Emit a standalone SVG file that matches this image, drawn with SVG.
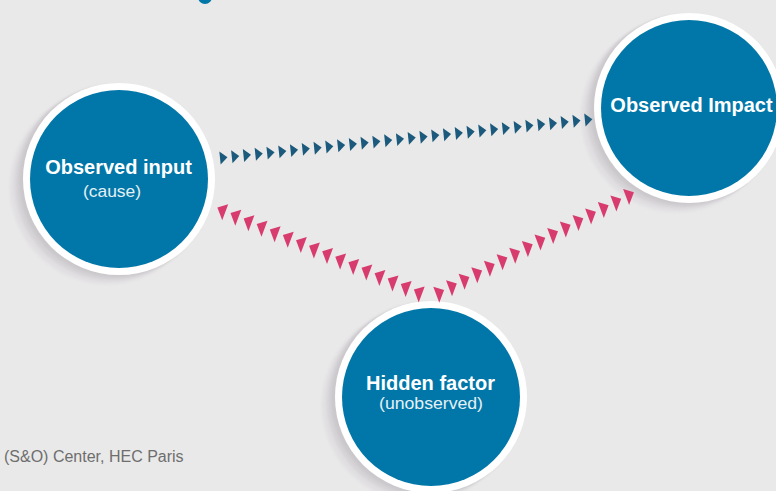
<svg xmlns="http://www.w3.org/2000/svg" xmlns:xlink="http://www.w3.org/1999/xlink" width="776" height="491" viewBox="0 0 776 491">
<style>
.bg{fill:#e9e9e9}
.ring{fill:#ffffff}
.core{fill:#0077a8}
.sh0{fill:#e1dfe2}
.sh1{fill:#d6d3d7}
.sh2{fill:#cbc8cc}
.bt{fill:#1b5a7c}
.pt{fill:#d83b6e}
.title{font-family:"Liberation Sans",Arial,sans-serif;font-weight:bold;font-size:20px;fill:#ffffff;text-anchor:middle}
.sub{font-family:"Liberation Sans",Arial,sans-serif;font-size:17px;fill:#e6f0f6;text-anchor:middle}
.foot{font-family:"Liberation Sans",Arial,sans-serif;font-size:16px;fill:#6e6e6e}
</style>
<defs>
<filter id="blur" x="-20%" y="-20%" width="140%" height="140%"><feGaussianBlur stdDeviation="1.5"/></filter>
<polygon id="btri" class="bt" points="0,-6.5 7.5,0 0,6.5"/>
<polygon id="ptl" class="pt" points="-5.2,-3.2 5.6,-6.4 -0.4,9.6"/>
<polygon id="ptr" class="pt" points="5.2,-3.2 -5.6,-6.4 0.4,9.6"/>
</defs>
<rect class="bg" x="0" y="0" width="776" height="491"/>
<circle class="core" cx="205" cy="-3" r="7"/>

<g id="observed-input">
<circle class="sh0" cx="107" cy="187" r="97" filter="url(#blur)"/>
<circle class="sh1" cx="111" cy="184" r="96" filter="url(#blur)"/>
<circle class="sh2" cx="115" cy="181" r="96" filter="url(#blur)"/>
<circle class="ring" cx="119" cy="179" r="96"/>
<circle class="core" cx="119" cy="179" r="89"/>
<text class="title" x="118.5" y="173.5">Observed input</text>
<text class="sub" x="112" y="197" textLength="58" lengthAdjust="spacingAndGlyphs">(cause)</text>
</g>

<g id="observed-impact">
<circle class="sh0" cx="677" cy="116" r="96" filter="url(#blur)"/>
<circle class="sh1" cx="681" cy="113" r="95" filter="url(#blur)"/>
<circle class="sh2" cx="685" cy="110" r="95" filter="url(#blur)"/>
<circle class="ring" cx="689" cy="108" r="95"/>
<circle class="core" cx="689" cy="108" r="88"/>
<text class="title" x="691.5" y="112">Observed Impact</text>
</g>

<g id="hidden-factor">
<circle class="sh0" cx="419" cy="405" r="97" filter="url(#blur)"/>
<circle class="sh1" cx="423" cy="402" r="96" filter="url(#blur)"/>
<circle class="sh2" cx="427" cy="399" r="96" filter="url(#blur)"/>
<circle class="ring" cx="431" cy="397" r="96"/>
<circle class="core" cx="431" cy="397" r="89"/>
<text class="title" x="430.5" y="390">Hidden factor</text>
<text class="sub" x="431" y="409" font-size="16" textLength="104" lengthAdjust="spacingAndGlyphs">(unobserved)</text>
</g>

<g id="connectors">
<g id="input-to-impact">
<use href="#btri" transform="translate(220,158) rotate(-6)"/>
<use href="#btri" transform="translate(231.8,156.8) rotate(-6)"/>
<use href="#btri" transform="translate(243.5,155.5) rotate(-6)"/>
<use href="#btri" transform="translate(255.3,154.3) rotate(-6)"/>
<use href="#btri" transform="translate(267.1,153.1) rotate(-6)"/>
<use href="#btri" transform="translate(278.9,151.9) rotate(-6)"/>
<use href="#btri" transform="translate(290.6,150.6) rotate(-6)"/>
<use href="#btri" transform="translate(302.4,149.4) rotate(-6)"/>
<use href="#btri" transform="translate(314.2,148.2) rotate(-6)"/>
<use href="#btri" transform="translate(325.9,147) rotate(-6)"/>
<use href="#btri" transform="translate(337.7,145.7) rotate(-6)"/>
<use href="#btri" transform="translate(349.5,144.5) rotate(-6)"/>
<use href="#btri" transform="translate(361.2,143.3) rotate(-6)"/>
<use href="#btri" transform="translate(373,142.1) rotate(-6)"/>
<use href="#btri" transform="translate(384.8,140.8) rotate(-6)"/>
<use href="#btri" transform="translate(396.6,139.6) rotate(-6)"/>
<use href="#btri" transform="translate(408.3,138.4) rotate(-6)"/>
<use href="#btri" transform="translate(420.1,137.2) rotate(-6)"/>
<use href="#btri" transform="translate(431.9,135.9) rotate(-6)"/>
<use href="#btri" transform="translate(443.6,134.7) rotate(-6)"/>
<use href="#btri" transform="translate(455.4,133.5) rotate(-6)"/>
<use href="#btri" transform="translate(467.2,132.3) rotate(-6)"/>
<use href="#btri" transform="translate(478.9,131) rotate(-6)"/>
<use href="#btri" transform="translate(490.7,129.8) rotate(-6)"/>
<use href="#btri" transform="translate(502.5,128.6) rotate(-6)"/>
<use href="#btri" transform="translate(514.3,127.4) rotate(-6)"/>
<use href="#btri" transform="translate(526,126.1) rotate(-6)"/>
<use href="#btri" transform="translate(537.8,124.9) rotate(-6)"/>
<use href="#btri" transform="translate(549.6,123.7) rotate(-6)"/>
<use href="#btri" transform="translate(561.3,122.5) rotate(-6)"/>
<use href="#btri" transform="translate(573.1,121.2) rotate(-6)"/>
<use href="#btri" transform="translate(584.9,120) rotate(-6)"/>
</g>
<g id="hidden-to-input">
<use href="#ptl" x="222.6" y="210.7"/>
<use href="#ptl" x="235.7" y="216.2"/>
<use href="#ptl" x="248.8" y="221.6"/>
<use href="#ptl" x="261.9" y="227.1"/>
<use href="#ptl" x="275" y="232.6"/>
<use href="#ptl" x="288.1" y="238.1"/>
<use href="#ptl" x="301.2" y="243.5"/>
<use href="#ptl" x="314.3" y="249"/>
<use href="#ptl" x="327.4" y="254.5"/>
<use href="#ptl" x="340.5" y="259.9"/>
<use href="#ptl" x="353.6" y="265.4"/>
<use href="#ptl" x="366.7" y="270.9"/>
<use href="#ptl" x="379.8" y="276.4"/>
<use href="#ptl" x="392.9" y="281.8"/>
<use href="#ptl" x="406" y="287.3"/>
<use href="#ptl" x="419.1" y="292.8"/>
</g>
<g id="hidden-to-impact">
<use href="#ptr" x="438.9" y="293.1"/>
<use href="#ptr" x="451.6" y="286.6"/>
<use href="#ptr" x="464.2" y="280.1"/>
<use href="#ptr" x="476.9" y="273.6"/>
<use href="#ptr" x="489.5" y="267.1"/>
<use href="#ptr" x="502.2" y="260.6"/>
<use href="#ptr" x="514.8" y="254.1"/>
<use href="#ptr" x="527.5" y="247.5"/>
<use href="#ptr" x="540.1" y="241"/>
<use href="#ptr" x="552.8" y="234.5"/>
<use href="#ptr" x="565.4" y="228"/>
<use href="#ptr" x="578.1" y="221.5"/>
<use href="#ptr" x="590.7" y="215"/>
<use href="#ptr" x="603.4" y="208.5"/>
<use href="#ptr" x="616" y="202"/>
<use href="#ptr" x="628.7" y="195.5"/>
</g>
</g>

<text class="foot" x="4" y="462">(S&amp;O) Center, HEC Paris</text>
</svg>
